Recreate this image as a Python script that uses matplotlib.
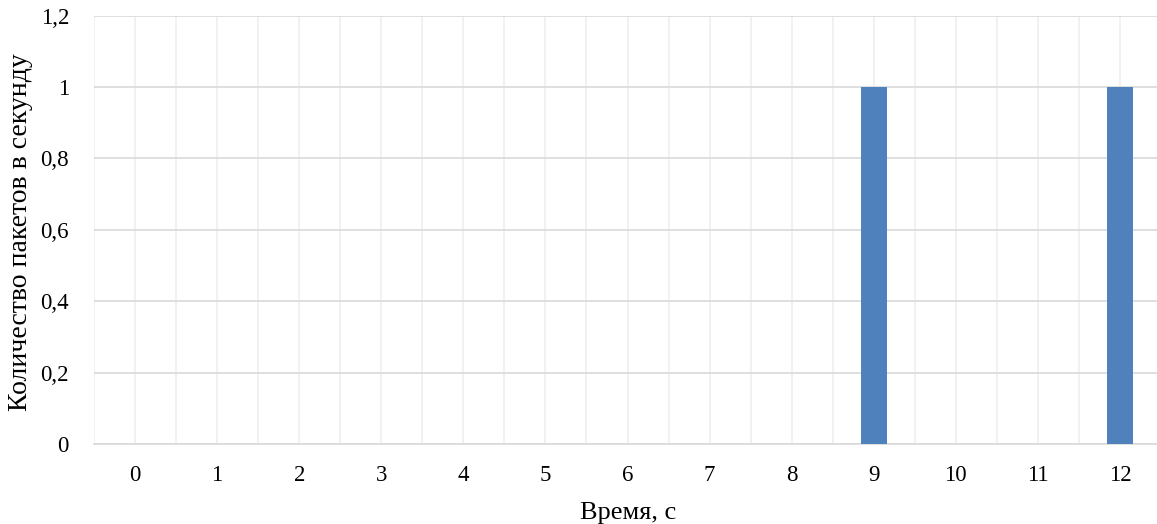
import matplotlib
matplotlib.use("Agg")
import matplotlib.pyplot as plt
from matplotlib.ticker import FuncFormatter, MultipleLocator

# Packets per second over time
seconds = list(range(13))
packets = [0, 0, 0, 0, 0, 0, 0, 0, 0, 1, 0, 0, 1]
y_ticks = [0, 0.2, 0.4, 0.6, 0.8, 1.0, 1.2]

plt.rcParams['font.family'] = ['Liberation Serif', 'DejaVu Serif']

fig = plt.figure(figsize=(11.57, 5.24), dpi=100)
ax = fig.add_axes([94 / 1157, 1 - 444 / 524, 1067 / 1157, (444 - 15.6) / 524])

ax.bar(seconds, packets, width=0.32, color='#4f81bd', zorder=3)

ax.set_xlim(-0.5, 12.5)
ax.set_ylim(0, 1.2)
ax.set_xticks(seconds)
ax.set_xticklabels([str(s) for s in seconds])
ax.set_yticks(y_ticks)
ax.yaxis.set_major_formatter(FuncFormatter(lambda v, p: f"{v:g}".replace('.', ',')))

# vertical grid at category centres and boundaries
ax.xaxis.set_minor_locator(MultipleLocator(0.5))
ax.grid(axis='x', which='both', color='#efefef', linewidth=1.2, zorder=0)
ax.grid(axis='y', which='major', color='#d9d9d9', linewidth=1.2, zorder=0)

for side in ['top', 'right', 'left']:
    ax.spines[side].set_visible(False)
ax.spines['bottom'].set_color('#d9d9d9')
ax.spines['bottom'].set_linewidth(1.2)

ax.tick_params(axis='both', which='both', length=0, labelsize=16.5, colors='black')
ax.tick_params(axis='x', pad=15)
ax.tick_params(axis='y', pad=18)

ax.set_xlabel('Время, с', fontsize=19)
ax.set_ylabel('Количество пакетов в секунду', fontsize=20)
ax.xaxis.set_label_coords(0.5005, -0.135)
ax.yaxis.set_label_coords(-0.057, 0.495)

fig.savefig('out.png', dpi=100)
